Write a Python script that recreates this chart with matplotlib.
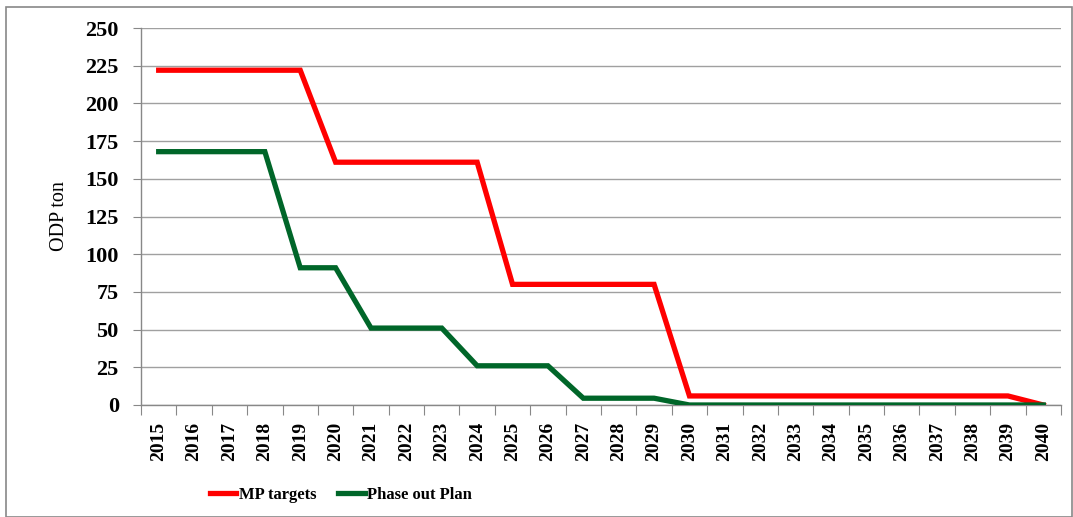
import matplotlib
matplotlib.use("Agg")
import matplotlib.pyplot as plt
from matplotlib.patches import Rectangle

years = [str(y) for y in range(2015, 2041)]
mp_targets = [222, 222, 222, 222, 222,
              161, 161, 161, 161, 161,
              80, 80, 80, 80, 80,
              6, 6, 6, 6, 6, 6, 6, 6, 6, 6,
              0]
phase_out = [168, 168, 168, 168,
             91, 91,
             51, 51, 51,
             26, 26, 26,
             4.5, 4.5, 4.5,
             0, 0, 0, 0, 0, 0, 0, 0, 0, 0, 0]
y_ticks = list(range(0, 251, 25))

plt.rcParams['font.family'] = ['Liberation Serif', 'DejaVu Serif']

W, H = 1073, 517
fig = plt.figure(figsize=(W / 100, H / 100), dpi=100)
ax = fig.add_axes([141 / W, 1 - 405 / H, (1061 - 141) / W, (405 - 28) / H])

x = list(range(len(years)))
l1, = ax.plot(x, mp_targets, color='#ff0000', lw=3.8, solid_joinstyle='miter', label='MP targets', zorder=3)
l2, = ax.plot(x, phase_out, color='#006629', lw=3.8, solid_joinstyle='miter', label='Phase out Plan', zorder=3)

ax.set_xlim(-0.5, len(years) - 0.5)
ax.set_ylim(0, 250)
ax.set_yticks(y_ticks)
ax.set_yticklabels([str(v) for v in y_ticks], fontsize=16, fontweight='bold')
ax.set_xticks([i - 0.5 for i in range(len(years) + 1)], minor=False)
ax.set_xticklabels([])
ax.set_xticks(x, minor=True)
ax.set_xticklabels(years, minor=True, rotation=90, fontsize=14, fontweight='bold')
ax.tick_params(axis='x', which='minor', length=0, pad=12)
ax.tick_params(axis='x', which='major', length=7, color='#888888', direction='out')
ax.tick_params(axis='y', length=6, color='#888888', direction='out', pad=10)

ax.grid(axis='y', color='#a0a0a0', lw=1.0, zorder=0)
for s in ['top', 'right']:
    ax.spines[s].set_visible(False)
for s in ['left', 'bottom']:
    ax.spines[s].set_color('#888888')
    ax.spines[s].set_linewidth(1.0)

ax.set_ylabel('ODP ton', fontsize=14.5, labelpad=12)

fig.legend(handles=[l1, l2], loc='center', bbox_to_anchor=(341 / W, 1 - 495 / H),
           ncol=2, frameon=False, prop={'size': 12, 'weight': 'bold'},
           handlelength=1.6, columnspacing=1.3, handletextpad=0.15)

fig.patches.append(Rectangle((6 / W, 0), 1 - 6 / W - 1 / W, 1 - 7 / H, transform=fig.transFigure,
                             fill=False, edgecolor='#888888', lw=1.2))

fig.savefig('out.png', dpi=100)
